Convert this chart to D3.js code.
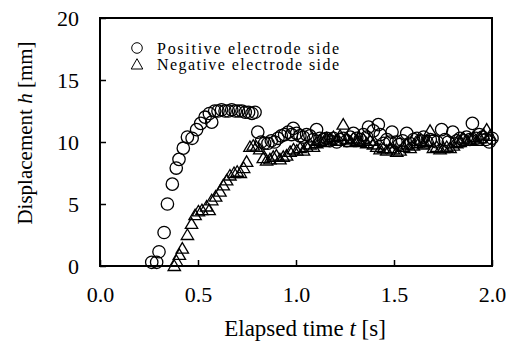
<!DOCTYPE html>
<html>
<head>
<meta charset="utf-8">
<script src="https://cdn.jsdelivr.net/npm/d3@7"></script>
<style>
  body { margin: 0; background: #fff; }
</style>
</head>
<body>
<div id="chart"></div>
<script>
const W = 506, H = 344;
const serif = "'Liberation Serif', 'Times New Roman', Times, serif";

// Positive electrode side (circles): [t (s), h (mm)]
const positiveSide = [
  [0.264, 0.3], [0.289, 0.3], [0.301, 1.15], [0.327, 2.7], [0.344, 5.0], [0.369, 6.6],
  [0.389, 7.9], [0.403, 8.6], [0.425, 9.5], [0.446, 10.4], [0.470, 10.3], [0.493, 11.0],
  [0.514, 11.5], [0.536, 12.0], [0.558, 12.3], [0.570, 11.6], [0.585, 12.5], [0.602, 12.5],
  [0.620, 12.6], [0.638, 12.5], [0.655, 12.5], [0.672, 12.6], [0.690, 12.5], [0.707, 12.5],
  [0.724, 12.5], [0.741, 12.4], [0.758, 12.4], [0.775, 12.3], [0.791, 12.4], [0.805, 10.8],
  [0.822, 10.0], [0.840, 9.9], [0.857, 9.9], [0.874, 10.1], [0.891, 10.0], [0.908, 10.3],
  [0.925, 10.5], [0.942, 10.6], [0.960, 10.8], [0.977, 10.6], [0.986, 11.1], [1.003, 10.7],
  [1.020, 10.5], [1.037, 10.4], [1.054, 10.6], [1.071, 10.5], [1.088, 10.2], [1.105, 11.0],
  [1.122, 10.3], [1.140, 10.2], [1.157, 10.3], [1.174, 10.1], [1.191, 10.3], [1.208, 10.0],
  [1.225, 10.2], [1.242, 10.3], [1.259, 10.1], [1.276, 10.4], [1.293, 10.7], [1.310, 10.3],
  [1.327, 10.2], [1.344, 10.6], [1.361, 10.4], [1.370, 11.2], [1.395, 10.9], [1.420, 11.4],
  [1.430, 10.6], [1.447, 9.9], [1.464, 10.2], [1.480, 10.0], [1.490, 10.8], [1.510, 10.0],
  [1.527, 9.8], [1.544, 10.1], [1.565, 10.7], [1.580, 9.9], [1.600, 10.2], [1.617, 10.3],
  [1.634, 10.1], [1.651, 10.4], [1.668, 10.0], [1.685, 10.2], [1.702, 10.1], [1.720, 10.0],
  [1.743, 11.0], [1.760, 10.2], [1.777, 10.0], [1.800, 10.8], [1.820, 10.1], [1.837, 10.3],
  [1.854, 10.1], [1.870, 10.4], [1.887, 10.2], [1.900, 11.5], [1.918, 10.3], [1.935, 10.6],
  [1.952, 10.4], [1.969, 10.2], [1.986, 10.0], [2.000, 10.3]
];

// Negative electrode side (triangles): [t (s), h (mm)]
const negativeSide = [
  [0.379, 0.0], [0.390, 0.4], [0.405, 0.9], [0.420, 1.4], [0.446, 2.5], [0.467, 3.4],
  [0.485, 4.1], [0.502, 4.4], [0.520, 4.5], [0.544, 4.8], [0.557, 4.5], [0.570, 5.3],
  [0.590, 5.6], [0.612, 6.0], [0.629, 6.5], [0.646, 6.9], [0.663, 7.3], [0.684, 7.5],
  [0.700, 7.6], [0.716, 7.5], [0.733, 7.9], [0.748, 8.4], [0.765, 9.6], [0.782, 9.7],
  [0.798, 9.6], [0.815, 9.4], [0.833, 8.7], [0.850, 8.5], [0.867, 8.6], [0.884, 8.8],
  [0.900, 8.9], [0.918, 8.6], [0.935, 8.8], [0.952, 8.9], [0.970, 9.2], [0.987, 9.4],
  [1.004, 9.3], [1.021, 9.5], [1.038, 9.3], [1.055, 9.6], [1.072, 9.8], [1.089, 9.6],
  [1.106, 9.9], [1.123, 10.1], [1.140, 10.0], [1.157, 10.3], [1.174, 10.2], [1.191, 10.4],
  [1.208, 10.1], [1.225, 10.5], [1.241, 11.4], [1.259, 10.2], [1.276, 10.0], [1.293, 10.3],
  [1.310, 10.1], [1.327, 10.0], [1.344, 10.2], [1.361, 9.9], [1.378, 10.1], [1.395, 9.8],
  [1.412, 9.6], [1.429, 9.4], [1.446, 9.5], [1.463, 9.3], [1.480, 9.5], [1.497, 9.4],
  [1.514, 9.2], [1.531, 9.3], [1.548, 9.6], [1.565, 9.8], [1.582, 9.5], [1.599, 9.7],
  [1.616, 9.9], [1.633, 10.1], [1.650, 9.8], [1.667, 10.0], [1.684, 10.9], [1.701, 9.5],
  [1.718, 9.6], [1.735, 9.4], [1.752, 9.5], [1.769, 9.6], [1.786, 9.5], [1.803, 9.7],
  [1.820, 9.9], [1.837, 10.0], [1.854, 10.3], [1.871, 10.1], [1.888, 10.2], [1.905, 10.4],
  [1.922, 10.1], [1.939, 10.3], [1.956, 10.6], [1.973, 11.0], [1.990, 10.5]
];

const xTicks = [0, 0.5, 1.0, 1.5, 2.0];
const yTicks = [0, 5, 10, 15, 20];
const legendLabels = ["Positive electrode side", "Negative electrode side"];

const plot = { left: 100, right: 492, top: 18, bottom: 266 };

const svg = d3.select("#chart")
  .append("svg")
  .attr("width", W)
  .attr("height", H)
  .style("font-family", serif);

const x = d3.scaleLinear().domain([0, 2]).range([plot.left, plot.right]);
const y = d3.scaleLinear().domain([0, 20]).range([plot.bottom, plot.top]);

// axes with inward ticks
const xAxis = svg.append("g")
  .attr("transform", `translate(0,${plot.bottom})`)
  .call(d3.axisBottom(x).tickValues(xTicks).tickFormat(d3.format(".1f"))
    .tickSizeInner(-6).tickSizeOuter(0).tickPadding(20));

const yAxis = svg.append("g")
  .attr("transform", `translate(${plot.left},0)`)
  .call(d3.axisLeft(y).tickValues(yTicks).tickFormat(d3.format("d"))
    .tickSizeInner(-6).tickSizeOuter(0).tickPadding(21));

[xAxis, yAxis].forEach(g => {
  g.attr("font-family", null);
  g.select(".domain").remove();
  g.selectAll(".tick line").attr("stroke", "#000").attr("stroke-width", 1.5);
  g.selectAll(".tick text")
    .style("font-family", serif)
    .style("font-size", "22px")
    .attr("fill", "#000");
});

// plot frame
svg.append("rect")
  .attr("x", plot.left)
  .attr("y", plot.top)
  .attr("width", plot.right - plot.left)
  .attr("height", plot.bottom - plot.top)
  .attr("fill", "none")
  .attr("stroke", "#000")
  .attr("stroke-width", 2);

const triPath = "M0,-6 L6.2,4.5 L-6.2,4.5 Z";

svg.append("g").selectAll("circle")
  .data(positiveSide)
  .join("circle")
  .attr("cx", d => x(d[0]))
  .attr("cy", d => y(d[1]))
  .attr("r", 6.2)
  .attr("fill", "none")
  .attr("stroke", "#000")
  .attr("stroke-width", 1.3);

svg.append("g").selectAll("path")
  .data(negativeSide)
  .join("path")
  .attr("d", triPath)
  .attr("transform", d => `translate(${x(d[0])},${y(d[1])})`)
  .attr("fill", "none")
  .attr("stroke", "#000")
  .attr("stroke-width", 1.3);

// legend
const legend = svg.append("g").attr("transform", "translate(137,48)");

legend.append("circle")
  .attr("r", 5.3)
  .attr("fill", "none")
  .attr("stroke", "#000")
  .attr("stroke-width", 1);

legend.append("path")
  .attr("d", "M0,-5.3 L5.8,5 L-5.8,5 Z")
  .attr("transform", "translate(0,16)")
  .attr("fill", "none")
  .attr("stroke", "#000")
  .attr("stroke-width", 1);

legend.selectAll("text")
  .data(legendLabels)
  .join("text")
  .attr("x", 20)
  .attr("y", (d, i) => 5.5 + i * 16)
  .attr("textLength", 182)
  .attr("lengthAdjust", "spacing")
  .style("font-family", serif)
  .style("font-size", "16px")
  .text(d => d);

// axis titles
const xTitle = svg.append("text")
  .attr("x", 305)
  .attr("y", 336)
  .attr("text-anchor", "middle")
  .style("font-family", serif)
  .style("font-size", "23px");
xTitle.append("tspan").text("Elapsed time ");
xTitle.append("tspan").style("font-style", "italic").text("t");
xTitle.append("tspan").text(" [s]");

const yTitle = svg.append("text")
  .attr("transform", "translate(32,133) rotate(-90)")
  .attr("text-anchor", "middle")
  .style("font-family", serif)
  .style("font-size", "21px");
yTitle.append("tspan").text("Displacement ");
yTitle.append("tspan").style("font-style", "italic").text("h");
yTitle.append("tspan").text(" [mm]");
</script>
</body>
</html>
